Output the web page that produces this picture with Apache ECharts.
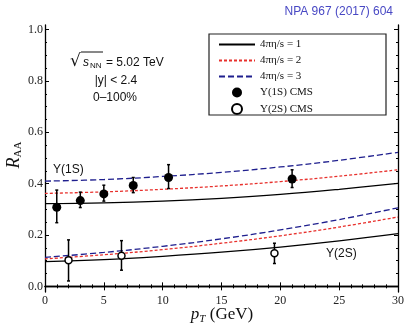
<!DOCTYPE html>
<html><head><meta charset="utf-8">
<script src="https://cdn.jsdelivr.net/npm/echarts@6/dist/echarts.min.js"></script>
<style>html,body{margin:0;padding:0;background:#fff}#c{width:407px;height:325px}</style>
</head><body><div id="c"></div>
<script>
// ---- data ----
var ptGrid = [0, 5, 10, 15, 20, 25, 30];
// Upsilon(1S) model curves
var s1_eta1 = [0.322, 0.325, 0.332, 0.343, 0.358, 0.378, 0.401];
var s1_eta2 = [0.362, 0.368, 0.378, 0.391, 0.408, 0.429, 0.454];
var s1_eta3 = [0.410, 0.416, 0.428, 0.444, 0.465, 0.491, 0.522];
// Upsilon(2S) model curves
var s2_eta1 = [0.096, 0.104, 0.117, 0.133, 0.153, 0.177, 0.205];
var s2_eta2 = [0.107, 0.123, 0.143, 0.168, 0.197, 0.231, 0.270];
var s2_eta3 = [0.113, 0.132, 0.156, 0.185, 0.220, 0.260, 0.306];
// CMS data: pT, RAA, low, high
var cms1S_pt  = [1, 3, 5, 7.5, 10.5, 21];
var cms1S_raa = [0.308, 0.334, 0.360, 0.393, 0.424, 0.418];
var cms1S_lo  = [0.248, 0.307, 0.332, 0.365, 0.381, 0.385];
var cms1S_hi  = [0.375, 0.367, 0.394, 0.424, 0.474, 0.454];
var cms2S_pt  = [2, 6.5, 19.5];
var cms2S_raa = [0.102, 0.119, 0.129];
var cms2S_lo  = [0.021, 0.063, 0.089];
var cms2S_hi  = [0.181, 0.178, 0.168];
var yMajor = [0, 0.2, 0.4, 0.6, 0.8, 1.0];
var yMinor = [0.05, 0.1, 0.15, 0.25, 0.3, 0.35, 0.45, 0.5, 0.55, 0.65, 0.7, 0.75, 0.85, 0.9, 0.95];
var names = ['4\u03c0\u03b7/s = 1', '4\u03c0\u03b7/s = 2', '4\u03c0\u03b7/s = 3', '\u03a5(1S) CMS', '\u03a5(2S) CMS'];

function zip(xs, ys) { return xs.map(function (x, i) { return [x, ys[i]]; }); }
function zip3(xs, lo, hi) { return xs.map(function (x, i) { return [x, lo[i], hi[i]]; }); }

var serif = 'Liberation Serif';
var sans = 'Liberation Sans';
var blue = '#1f1f8e', red = '#e8302c';

function curve(name, ys, color, type, dash) {
  return {
    name: name, type: 'line', data: zip(ptGrid, ys), smooth: 0.4, symbol: 'none', showSymbol: false,
    lineStyle: { color: color, width: 1.3, type: dash || type },
    itemStyle: { color: color }, z: 3, silent: true
  };
}
function errBars(data) {
  return {
    type: 'custom', data: data, z: 4, silent: true,
    renderItem: function (params, api) {
      var a = api.coord([api.value(0), api.value(1)]);
      var b = api.coord([api.value(0), api.value(2)]);
      var st = { stroke: '#000', lineWidth: 1.5 };
      return { type: 'group', children: [
        { type: 'line', shape: { x1: a[0], y1: a[1], x2: b[0], y2: b[1] }, style: st },
        { type: 'line', shape: { x1: a[0] - 1.5, y1: a[1], x2: a[0] + 1.5, y2: a[1] }, style: st },
        { type: 'line', shape: { x1: b[0] - 1.5, y1: b[1], x2: b[0] + 1.5, y2: b[1] }, style: st }
      ]};
    }
  };
}
var tickStyle = { color: '#000', width: 1 };
function xAx(pos, labels) {
  return {
    type: 'value', position: pos, min: 0, max: 30, interval: 5,
    axisLine: { show: true, lineStyle: { color: '#000', width: 1.3 } },
    axisTick: { show: true, inside: true, length: 4, lineStyle: tickStyle },
    minorTick: { show: true, splitNumber: 5, length: 2, lineStyle: tickStyle },
    axisLabel: { show: labels, fontFamily: serif, fontSize: 12, color: '#222', margin: 3 },
    splitLine: { show: false }, minorSplitLine: { show: false }
  };
}
function yAx(pos, vals, len, labels, line) {
  return {
    type: 'value', position: pos, min: -0.022, max: 1.018,
    axisLine: { show: line, onZero: false, lineStyle: { color: '#000', width: 1.3 } },
    axisTick: { show: true, inside: true, length: len, customValues: vals, lineStyle: tickStyle },
    axisLabel: { show: labels, customValues: vals, fontFamily: serif, fontSize: 12, color: '#222', margin: 2,
      formatter: function (v) { return v.toFixed(1); } },
    splitLine: { show: false }
  };
}

var chart = echarts.init(document.getElementById('c'), null, { renderer: 'canvas' });
chart.setOption({
  animation: false,
  backgroundColor: '#fff',
  grid: { left: 45, right: 7, top: 25, bottom: 33, containLabel: false },
  xAxis: [xAx('bottom', true), xAx('top', false)],
  yAxis: [yAx('left', yMajor, 4, true, true), yAx('left', yMinor, 2, false, false),
          yAx('right', yMajor, 4, false, true), yAx('right', yMinor, 2, false, false)],
  legend: {
    left: 213, top: 34, padding: 5, orient: 'vertical', itemWidth: 36, itemHeight: 10, itemGap: 5,
    selectedMode: false,
    data: [
      { name: names[0], itemStyle: { opacity: 0 } },
      { name: names[1], itemStyle: { opacity: 0 } },
      { name: names[2], itemStyle: { opacity: 0 } },
      { name: names[3] },
      { name: names[4] }
    ],
    textStyle: { fontFamily: serif, fontSize: 11, color: '#111' }
  },
  series: [
    curve(names[0], s1_eta1, '#000', 'solid'),
    curve(names[1], s1_eta2, red, 'dotted', [3, 2]),
    curve(names[2], s1_eta3, blue, 'dashed', [6, 3]),
    curve(names[0], s2_eta1, '#000', 'solid'),
    curve(names[1], s2_eta2, red, 'dotted', [3, 2]),
    curve(names[2], s2_eta3, blue, 'dashed', [6, 3]),
    errBars(zip3(cms1S_pt, cms1S_lo, cms1S_hi)),
    errBars(zip3(cms2S_pt, cms2S_lo, cms2S_hi)),
    { name: names[3], type: 'scatter', data: zip(cms1S_pt, cms1S_raa), symbol: 'circle', symbolSize: 9,
      itemStyle: { color: '#000', opacity: 1 }, z: 5, silent: true },
    { name: names[4], type: 'scatter', data: zip(cms2S_pt, cms2S_raa), symbol: 'circle', symbolSize: 7,
      itemStyle: { color: '#fff', borderColor: '#000', borderWidth: 1.5, opacity: 1 }, z: 5, silent: true }
  ],
  graphic: [
    { type: 'rect', shape: { x: 209, y: 34, width: 177, height: 81 }, style: { fill: 'none', stroke: '#222', lineWidth: 1.2 }, z: 10, silent: true },
    { type: 'text', x: 393, y: 12, style: { text: 'NPA 967 (2017) 604', fill: '#4848c4', font: '12px ' + sans, align: 'right', verticalAlign: 'middle' } },
    { type: 'text', x: 70, y: 62, style: { text: '\u221a', fill: '#111', font: '17px DejaVu Sans', align: 'left', verticalAlign: 'middle' } },
    { type: 'line', shape: { x1: 81, y1: 52, x2: 103, y2: 52 }, style: { stroke: '#111', lineWidth: 1 } },
    { type: 'text', x: 83, y: 63, style: { text: 's', fill: '#111', font: 'italic 12px ' + sans, align: 'left', verticalAlign: 'middle' } },
    { type: 'text', x: 90, y: 66, style: { text: 'NN', fill: '#111', font: '8px ' + sans, align: 'left', verticalAlign: 'middle' } },
    { type: 'text', x: 106, y: 63, style: { text: '= 5.02 TeV', fill: '#111', font: '12px ' + sans, align: 'left', verticalAlign: 'middle' } },
    { type: 'text', x: 116, y: 81, style: { text: '|y| < 2.4', fill: '#111', font: '12px ' + sans, align: 'center', verticalAlign: 'middle' } },
    { type: 'text', x: 115, y: 98, style: { text: '0\u2013100%', fill: '#111', font: '12px ' + sans, align: 'center', verticalAlign: 'middle' } },
    { type: 'text', x: 53, y: 170, style: { text: '\u03a5(1S)', fill: '#111', font: '12px ' + sans, align: 'left', verticalAlign: 'middle' } },
    { type: 'text', x: 326, y: 254, style: { text: '\u03a5(2S)', fill: '#111', font: '12px ' + sans, align: 'left', verticalAlign: 'middle' } },
    { type: 'text', x: 222, y: 315, style: { text: '{p|p}{t|T}{g| (GeV)}', align: 'center', verticalAlign: 'middle',
        rich: { p: { font: 'italic 17px ' + serif, fill: '#111' }, t: { font: 'italic 11px ' + serif, fill: '#111', padding: [8, 0, 0, 0] }, g: { font: '17px ' + serif, fill: '#111' } } } },
    { type: 'text', x: 14, y: 155, rotation: Math.PI / 2, style: { text: '{r|R}{a|AA}', align: 'center', verticalAlign: 'middle',
        rich: { r: { font: 'italic 18px ' + serif, fill: '#111' }, a: { font: '11px ' + serif, fill: '#111', padding: [8, 0, 0, 0] } } } }
  ]
});
</script></body></html>
